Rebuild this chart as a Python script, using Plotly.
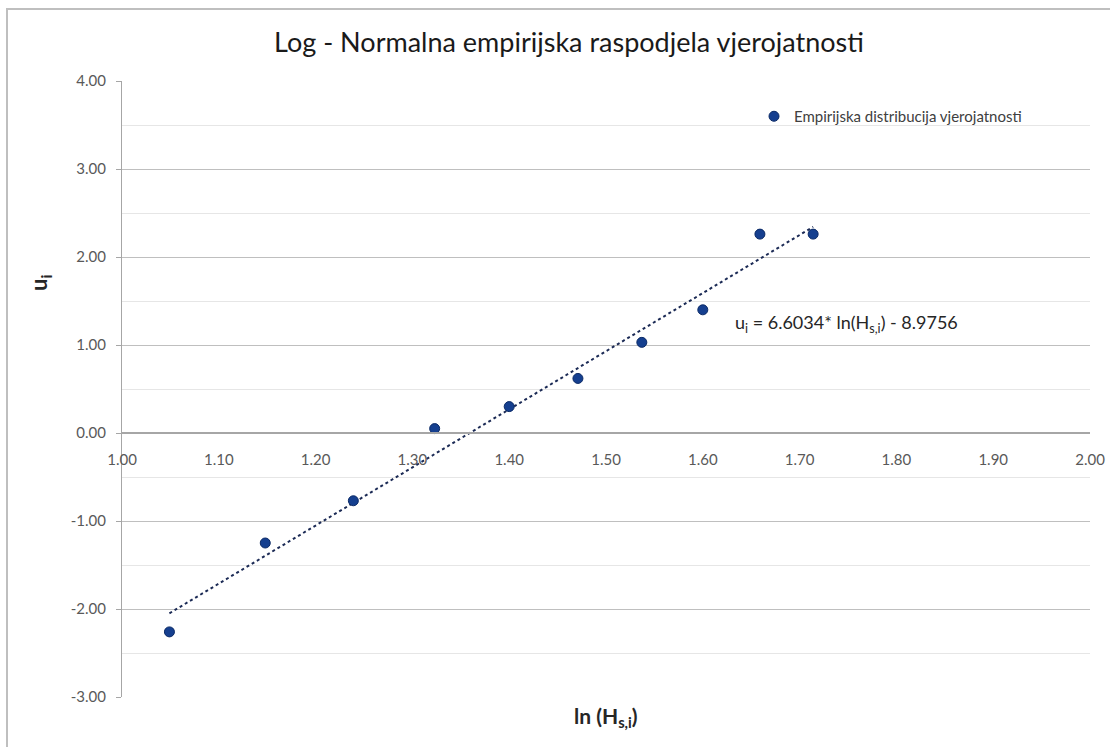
import plotly.graph_objects as go

# data
ln_hs = [1.049, 1.148, 1.239, 1.323, 1.400, 1.471, 1.537, 1.600, 1.659, 1.714]
u_i = [-2.26, -1.25, -0.77, 0.05, 0.30, 0.62, 1.03, 1.40, 2.26, 2.26]
slope = 6.6034
intercept = -8.9756
y_ticks = [-3, -2, -1, 0, 1, 2, 3, 4]
x_ticks = [1.0, 1.1, 1.2, 1.3, 1.4, 1.5, 1.6, 1.7, 1.8, 1.9, 2.0]

font_family = "Lato, 'Open Sans', sans-serif"

W, H = 1110, 747
L, R, T, B = 122, 1090, 81, 697
pw, ph = R - L, B - T

trend_x = [min(ln_hs), max(ln_hs)]
trend_y = [slope * v + intercept for v in trend_x]

fig = go.Figure()
fig.add_trace(go.Scatter(
    x=trend_x, y=trend_y, mode="lines",
    line=dict(color="#1B2A55", width=2, dash="dot"),
    showlegend=False, hoverinfo="skip"))
fig.add_trace(go.Scatter(
    x=ln_hs, y=u_i, mode="markers",
    name="Empirijska distribucija vjerojatnosti",
    marker=dict(size=10, color="#153F8F", line=dict(color="#0B2A66", width=1))))

fig.update_layout(
    width=W, height=H,
    paper_bgcolor="white", plot_bgcolor="white",
    margin=dict(l=L, r=W - R, t=T, b=H - B, autoexpand=False),
    font=dict(family=font_family, color="#595959", size=14),
    title=dict(text="Log - Normalna empirijska raspodjela vjerojatnosti",
               x=(569 / W), xanchor="center", y=1 - 43 / H, yanchor="middle",
               font=dict(size=27, color="#1a1a1a", family=font_family)),
    showlegend=True,
    legend=dict(x=(754 - L) / pw, y=1 - (100 - T) / ph, xanchor="left", yanchor="top",
                bgcolor="rgba(0,0,0,0)", font=dict(size=15, color="#404040")),
    xaxis=dict(range=[1.0, 2.0], tickvals=x_ticks,
               ticktext=[f"{v:.2f}" for v in x_ticks],
               showgrid=False, zeroline=False,
               showline=True, linecolor="#A6A6A6", linewidth=1.5,
               anchor="free", position=3 / 7, ticks="",
               ticklabelstandoff=13,
               tickfont=dict(size=15, color="#595959"),
               title=None),
    yaxis=dict(range=[-3, 4], tickvals=y_ticks,
               ticktext=[f"{v:.2f}" for v in y_ticks],
               showgrid=True, gridcolor="#BFBFBF", gridwidth=1,
               zeroline=False, showline=True, linecolor="#A6A6A6", linewidth=1,
               ticks="outside", ticklen=5, tickcolor="#A6A6A6",
               ticklabelstandoff=7,
               minor=dict(dtick=0.5, showgrid=True, gridcolor="#E6E6E6", ticks=""),
               tickfont=dict(size=15, color="#595959"),
               title=None),
)

# axis titles
fig.add_annotation(text="<b>ln (H<sub>s,i</sub>)</b>", xref="paper", yref="paper",
                   x=(606 - L) / pw, y=-(717 - B) / ph, showarrow=False,
                   font=dict(size=21, color="#262626", family=font_family),
                   xanchor="center", yanchor="middle")
fig.add_annotation(text="<b>u<sub>i</sub></b>", xref="paper", yref="paper",
                   x=-(L - 40) / pw, y=(B - 283) / ph, showarrow=False,
                   textangle=-90,
                   font=dict(size=22, color="#262626", family=font_family),
                   xanchor="center", yanchor="middle")
# equation
fig.add_annotation(text="u<sub>i</sub> = 6.6034* ln(H<sub>s,i</sub>) - 8.9756",
                   xref="paper", yref="paper",
                   x=(733 - L) / pw, y=(B - 323) / ph, showarrow=False,
                   font=dict(size=18, color="#262626", family=font_family),
                   xanchor="left", yanchor="middle")

# chart border (left and top edges visible)
fig.add_shape(type="rect", xref="paper", yref="paper",
              x0=-(L - 7) / pw, x1=1 + (W + 20 - R) / pw,
              y0=-(H + 20 - B) / ph, y1=1 + (T - 9) / ph,
              line=dict(color="#BFBFBF", width=2), layer="below")

fig.write_html("out.html", config={"displayModeBar": False},
               post_script="document.body.style.margin='0';")
